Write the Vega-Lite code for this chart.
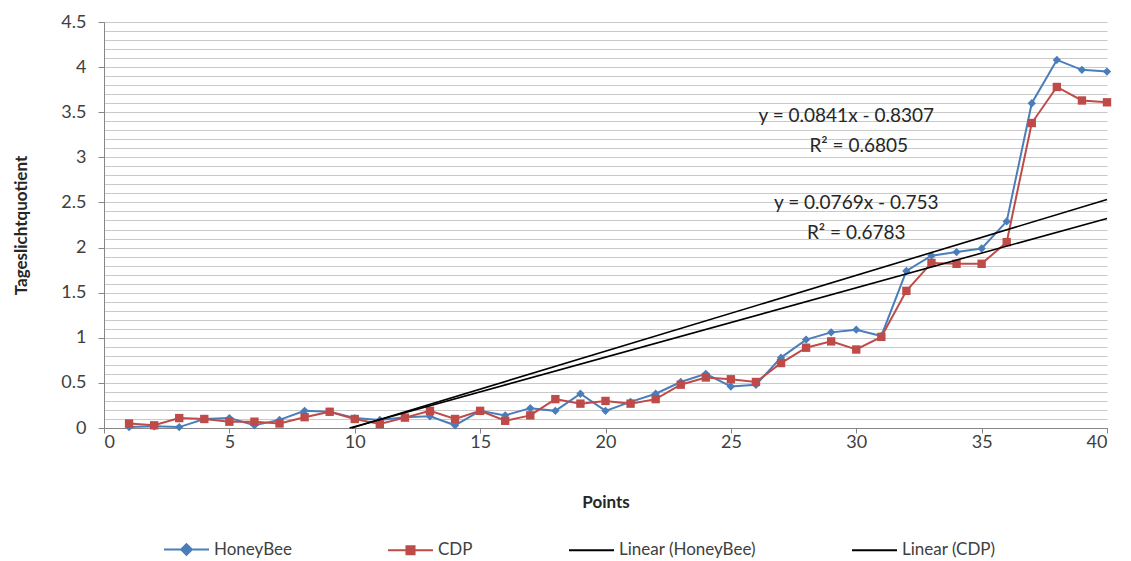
{
  "$schema": "https://vega.github.io/schema/vega-lite/v6.json",
  "width": 1003,
  "height": 406,
  "autosize": {"type": "none"},
  "padding": {"left": 104, "top": 22, "right": 24, "bottom": 133},
  "background": "white",
  "config": {
    "view": {"stroke": null},
    "font": "Lato",
    "axis": {
      "labelFont": "Lato",
      "titleFont": "Lato",
      "labelFontSize": 18,
      "labelColor": "#404040",
      "titleFontSize": 17,
      "titleFontWeight": "bold",
      "titleColor": "#262626",
      "domainColor": "#868686",
      "tickColor": "#868686",
      "labelOverlap": false
    }
  },
  "datasets": {
    "series": [
      {"x": 1, "series": "HoneyBee", "y": 0.01}, {"x": 2, "series": "HoneyBee", "y": 0.02}, {"x": 3, "series": "HoneyBee", "y": 0.01},
      {"x": 4, "series": "HoneyBee", "y": 0.10}, {"x": 5, "series": "HoneyBee", "y": 0.11}, {"x": 6, "series": "HoneyBee", "y": 0.03},
      {"x": 7, "series": "HoneyBee", "y": 0.09}, {"x": 8, "series": "HoneyBee", "y": 0.19}, {"x": 9, "series": "HoneyBee", "y": 0.18},
      {"x": 10, "series": "HoneyBee", "y": 0.11}, {"x": 11, "series": "HoneyBee", "y": 0.09}, {"x": 12, "series": "HoneyBee", "y": 0.12},
      {"x": 13, "series": "HoneyBee", "y": 0.13}, {"x": 14, "series": "HoneyBee", "y": 0.03}, {"x": 15, "series": "HoneyBee", "y": 0.19},
      {"x": 16, "series": "HoneyBee", "y": 0.14}, {"x": 17, "series": "HoneyBee", "y": 0.22}, {"x": 18, "series": "HoneyBee", "y": 0.19},
      {"x": 19, "series": "HoneyBee", "y": 0.38}, {"x": 20, "series": "HoneyBee", "y": 0.19}, {"x": 21, "series": "HoneyBee", "y": 0.29},
      {"x": 22, "series": "HoneyBee", "y": 0.38}, {"x": 23, "series": "HoneyBee", "y": 0.51}, {"x": 24, "series": "HoneyBee", "y": 0.60},
      {"x": 25, "series": "HoneyBee", "y": 0.46}, {"x": 26, "series": "HoneyBee", "y": 0.48}, {"x": 27, "series": "HoneyBee", "y": 0.78},
      {"x": 28, "series": "HoneyBee", "y": 0.98}, {"x": 29, "series": "HoneyBee", "y": 1.06}, {"x": 30, "series": "HoneyBee", "y": 1.09},
      {"x": 31, "series": "HoneyBee", "y": 1.02}, {"x": 32, "series": "HoneyBee", "y": 1.74}, {"x": 33, "series": "HoneyBee", "y": 1.91},
      {"x": 34, "series": "HoneyBee", "y": 1.95}, {"x": 35, "series": "HoneyBee", "y": 1.99}, {"x": 36, "series": "HoneyBee", "y": 2.29},
      {"x": 37, "series": "HoneyBee", "y": 3.60}, {"x": 38, "series": "HoneyBee", "y": 4.08}, {"x": 39, "series": "HoneyBee", "y": 3.97},
      {"x": 40, "series": "HoneyBee", "y": 3.95},
      {"x": 1, "series": "CDP", "y": 0.05}, {"x": 2, "series": "CDP", "y": 0.03}, {"x": 3, "series": "CDP", "y": 0.11},
      {"x": 4, "series": "CDP", "y": 0.10}, {"x": 5, "series": "CDP", "y": 0.07}, {"x": 6, "series": "CDP", "y": 0.07},
      {"x": 7, "series": "CDP", "y": 0.05}, {"x": 8, "series": "CDP", "y": 0.12}, {"x": 9, "series": "CDP", "y": 0.18},
      {"x": 10, "series": "CDP", "y": 0.10}, {"x": 11, "series": "CDP", "y": 0.045}, {"x": 12, "series": "CDP", "y": 0.115},
      {"x": 13, "series": "CDP", "y": 0.19}, {"x": 14, "series": "CDP", "y": 0.10}, {"x": 15, "series": "CDP", "y": 0.19},
      {"x": 16, "series": "CDP", "y": 0.08}, {"x": 17, "series": "CDP", "y": 0.14}, {"x": 18, "series": "CDP", "y": 0.32},
      {"x": 19, "series": "CDP", "y": 0.27}, {"x": 20, "series": "CDP", "y": 0.30}, {"x": 21, "series": "CDP", "y": 0.27},
      {"x": 22, "series": "CDP", "y": 0.32}, {"x": 23, "series": "CDP", "y": 0.48}, {"x": 24, "series": "CDP", "y": 0.56},
      {"x": 25, "series": "CDP", "y": 0.54}, {"x": 26, "series": "CDP", "y": 0.51}, {"x": 27, "series": "CDP", "y": 0.72},
      {"x": 28, "series": "CDP", "y": 0.89}, {"x": 29, "series": "CDP", "y": 0.96}, {"x": 30, "series": "CDP", "y": 0.87},
      {"x": 31, "series": "CDP", "y": 1.01}, {"x": 32, "series": "CDP", "y": 1.52}, {"x": 33, "series": "CDP", "y": 1.83},
      {"x": 34, "series": "CDP", "y": 1.82}, {"x": 35, "series": "CDP", "y": 1.82}, {"x": 36, "series": "CDP", "y": 2.06},
      {"x": 37, "series": "CDP", "y": 3.38}, {"x": 38, "series": "CDP", "y": 3.78}, {"x": 39, "series": "CDP", "y": 3.63},
      {"x": 40, "series": "CDP", "y": 3.61}
    ],
    "trend": [
      {"x": 9.878, "series": "Linear (HoneyBee)", "y": 0},
      {"x": 40, "series": "Linear (HoneyBee)", "y": 2.5333},
      {"x": 9.792, "series": "Linear (CDP)", "y": 0},
      {"x": 40, "series": "Linear (CDP)", "y": 2.323}
    ],
    "labels": [
      {"label": "y = 0.0841x - 0.8307", "x": 29.6, "y": 3.46},
      {"label": "R² = 0.6805", "x": 30.1, "y": 3.13},
      {"label": "y = 0.0769x - 0.753", "x": 30.0, "y": 2.49},
      {"label": "R² = 0.6783", "x": 30.0, "y": 2.16}
    ]
  },
  "layer": [
    {
      "data": {"name": "series"},
      "mark": {"type": "line", "strokeWidth": 2},
      "encoding": {
        "x": {
          "field": "x", "type": "quantitative",
          "scale": {"domain": [0, 40], "nice": false},
          "axis": {
            "title": "Points",
            "values": [0, 5, 10, 15, 20, 25, 30, 35, 40],
            "tickCount": 20,
            "grid": false,
            "tickSize": 5,
            "labelPadding": 0,
            "titleY": 66,
            "titleBaseline": "top"
          }
        },
        "y": {
          "field": "y", "type": "quantitative",
          "scale": {"domain": [0, 4.5], "nice": false},
          "axis": {
            "title": "Tageslichtquotient",
            "values": [0, 0.1, 0.2, 0.3, 0.4, 0.5, 0.6, 0.7, 0.8, 0.9, 1, 1.1, 1.2, 1.3, 1.4, 1.5, 1.6, 1.7, 1.8, 1.9, 2, 2.1, 2.2, 2.3, 2.4, 2.5, 2.6, 2.7, 2.8, 2.9, 3, 3.1, 3.2, 3.3, 3.4, 3.5, 3.6, 3.7, 3.8, 3.9, 4, 4.1, 4.2, 4.3, 4.4, 4.5],
            "tickCount": 100,
            "format": "~g",
            "labelOverlap": false,
            "labelExpr": "abs(datum.value*2 - round(datum.value*2)) < 0.001 ? datum.label : ''",
            "tickOpacity": {"condition": {"test": "abs(datum.value*2 - round(datum.value*2)) < 0.001", "value": 1}, "value": 0},
            "tickSize": 6,
            "labelPadding": 12,
            "grid": true,
            "gridColor": "#c9c9c9",
            "gridWidth": 1,
            "titleX": -74
          }
        },
        "color": {
          "field": "series", "type": "nominal",
          "scale": {"domain": ["HoneyBee", "CDP", "Linear (HoneyBee)", "Linear (CDP)"], "range": ["#4A7EBB", "#BE4B48", "#000000", "#000000"]},
          "legend": {
            "orient": "none",
            "legendX": 59,
            "legendY": 504,
            "direction": "horizontal",
            "title": null,
            "symbolSize": 2025,
            "labelFont": "Lato",
            "labelFontSize": 17,
            "labelColor": "#404040",
            "columnPadding": 92,
            "labelOffset": 4,
            "encode": {
              "symbols": {
                "update": {
                  "shape": {"signal": "datum.value === 'HoneyBee' ? 'M-1,0L1,0M0,-0.24L0.24,0L0,0.24L-0.24,0Z' : datum.value === 'CDP' ? 'M-1,0L1,0M-0.18,-0.18L0.18,-0.18L0.18,0.18L-0.18,0.18Z' : 'M-1,0L1,0'"},
                  "fill": {"signal": "datum.value === 'HoneyBee' ? '#4A7EBB' : datum.value === 'CDP' ? '#BE4B48' : 'transparent'"},
                  "stroke": {"signal": "datum.value === 'HoneyBee' ? '#4A7EBB' : datum.value === 'CDP' ? '#BE4B48' : '#000000'"},
                  "strokeWidth": {"value": 2},
                  "opacity": {"value": 1}
                }
              }
            }
          }
        },
        "order": {"field": "x", "type": "quantitative"}
      }
    },
    {
      "data": {"name": "series"},
      "mark": {"type": "point", "filled": true, "opacity": 1, "size": 70},
      "encoding": {
        "x": {"field": "x", "type": "quantitative"},
        "y": {"field": "y", "type": "quantitative"},
        "color": {"field": "series", "type": "nominal"},
        "shape": {
          "field": "series", "type": "nominal",
          "scale": {"domain": ["HoneyBee", "CDP"], "range": ["diamond", "square"]},
          "legend": null
        }
      }
    },
    {
      "data": {"name": "trend"},
      "mark": {"type": "line", "strokeWidth": 1.6},
      "encoding": {
        "x": {"field": "x", "type": "quantitative"},
        "y": {"field": "y", "type": "quantitative"},
        "color": {"field": "series", "type": "nominal"}
      }
    },
    {
      "data": {"name": "labels"},
      "mark": {"type": "text", "font": "Lato", "fontSize": 19, "color": "#262626", "align": "center", "baseline": "middle"},
      "encoding": {
        "x": {"field": "x", "type": "quantitative"},
        "y": {"field": "y", "type": "quantitative"},
        "text": {"field": "label", "type": "nominal"}
      }
    }
  ]
}
